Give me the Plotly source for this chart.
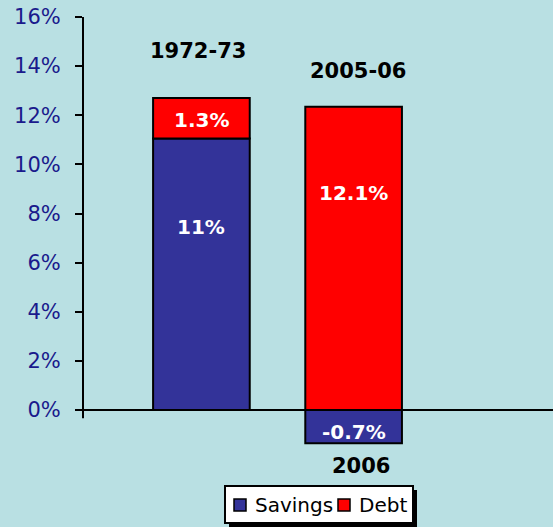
import plotly.graph_objects as go

# ---- data ----
periods = ["1972-73", "2005-06"]
x_pos = [0, 1]
savings_vals = [11.05, -1.35]
debt_vals = [1.65, 12.35]
savings_labels = ["11%", "-0.7%"]
debt_labels = ["1.3%", "12.1%"]
bottom_label = "2006"
series_names = ["Savings", "Debt"]
y_ticks = [0, 2, 4, 6, 8, 10, 12, 14, 16]
y_tick_text = [f"{v}%" for v in y_ticks]

BG = "#B9E0E3"
BLUE = "#333399"
RED = "#FF0000"
FONT = "DejaVu Sans"

W, H = 553, 527
ML, MR, MT, MB = 83, 0, 17, 57
PW, PH = W - ML - MR, H - MT - MB


def px(x):
    return (x - ML) / PW


def py(y):
    return (H - MB - y) / PH


fig = go.Figure()
fig.add_trace(go.Bar(x=x_pos, y=savings_vals, name=series_names[0], width=0.635,
                     marker=dict(color=BLUE, line=dict(color="black", width=2))))
fig.add_trace(go.Bar(x=x_pos, y=debt_vals, name=series_names[1], width=0.635,
                     marker=dict(color=RED, line=dict(color="black", width=2))))

annotations = []
lab_font = dict(family=FONT, size=20, color="white")
annotations.append(dict(x=x_pos[0], y=savings_vals[0] + debt_vals[0] * 0.45, text="<b>" + debt_labels[0] + "</b>",
                        showarrow=False, font=lab_font))
annotations.append(dict(x=x_pos[0], y=savings_vals[0] * 0.675, text="<b>" + savings_labels[0] + "</b>",
                        showarrow=False, font=lab_font))
annotations.append(dict(x=x_pos[1], y=debt_vals[1] * 0.715, text="<b>" + debt_labels[1] + "</b>",
                        showarrow=False, font=lab_font))
annotations.append(dict(x=x_pos[1], y=savings_vals[1] * 0.65, text="<b>" + savings_labels[1] + "</b>",
                        showarrow=False, font=lab_font))
title_font = dict(family=FONT, size=21, color="black")
annotations.append(dict(x=x_pos[0] - 0.02, y=14.6, text="<b>" + periods[0] + "</b>", showarrow=False, font=title_font))
annotations.append(dict(x=x_pos[1] + 0.03, y=13.8, text="<b>" + periods[1] + "</b>", showarrow=False, font=title_font))
annotations.append(dict(x=x_pos[1] + 0.05, y=-2.27, text="<b>" + bottom_label + "</b>", showarrow=False, font=title_font))

# manual legend text
leg_font = dict(family=FONT, size=20, color="black")
annotations.append(dict(xref="paper", yref="paper", x=px(253), y=py(505), xanchor="left", yanchor="middle",
                        text=series_names[0], showarrow=False, font=leg_font))
annotations.append(dict(xref="paper", yref="paper", x=px(357), y=py(505), xanchor="left", yanchor="middle",
                        text=series_names[1], showarrow=False, font=leg_font))
fig.update_layout(annotations=annotations)

shapes = [
    # legend shadow and box
    dict(type="rect", xref="paper", yref="paper", x0=px(229), x1=px(417), y0=py(527), y1=py(490),
         fillcolor="black", line=dict(width=0)),
    dict(type="rect", xref="paper", yref="paper", x0=px(225), x1=px(413), y0=py(523), y1=py(486),
         fillcolor="white", line=dict(color="black", width=2)),
    dict(type="rect", xref="paper", yref="paper", x0=px(234), x1=px(246), y0=py(511), y1=py(499),
         fillcolor=BLUE, line=dict(color="black", width=1.5)),
    dict(type="rect", xref="paper", yref="paper", x0=px(338), x1=px(350), y0=py(511), y1=py(499),
         fillcolor=RED, line=dict(color="black", width=1.5)),
    # y axis line
    dict(type="line", xref="paper", yref="y", x0=0, x1=0, y0=-0.33, y1=16.05, line=dict(color="black", width=2)),
    # x axis line
    dict(type="line", xref="paper", yref="y", x0=0, x1=1, y0=0, y1=0, line=dict(color="black", width=2)),
]
fig.update_layout(shapes=shapes)

fig.update_layout(
    width=W, height=H,
    barmode="relative",
    paper_bgcolor=BG, plot_bgcolor=BG,
    margin=dict(l=ML, r=MR, t=MT, b=MB),
    font=dict(family=FONT),
    showlegend=False,
    xaxis=dict(range=[-0.778, 2.31], showgrid=False, zeroline=False, showticklabels=False,
               showline=False, ticks="", fixedrange=True),
    yaxis=dict(range=[-2.44, 16], tickvals=y_ticks, ticktext=y_tick_text, showgrid=False,
               zeroline=False, showline=False, ticks="outside", ticklen=7, tickwidth=2,
               tickcolor="black", ticklabelstandoff=10,
               tickfont=dict(family=FONT, size=21, color="#1A1A8C")),
)

fig.write_html("out.html", config={"displayModeBar": False},
               post_script="document.body.style.margin='0';document.body.style.background='#B9E0E3';")
